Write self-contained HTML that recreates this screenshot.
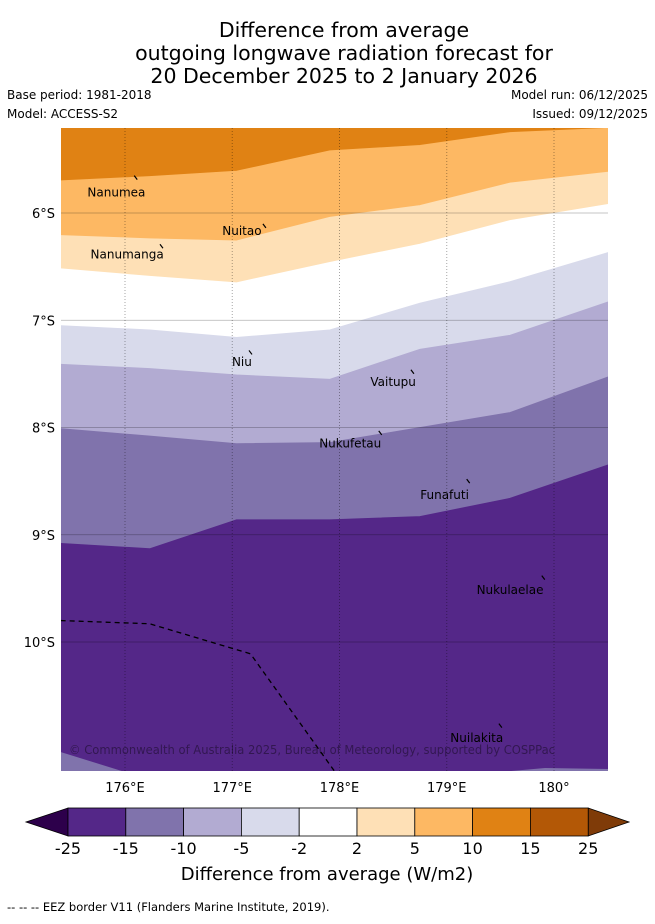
<!DOCTYPE html>
<html><head><meta charset="utf-8"><style>
body{margin:0;background:#fff;width:655px;height:919px;overflow:hidden;font-family:"Liberation Sans","DejaVu Sans",sans-serif}
</style></head><body>
<svg width="655" height="919" xmlns="http://www.w3.org/2000/svg" font-family="DejaVu Sans, Liberation Sans, sans-serif">
<g id="title" text-anchor="middle" font-size="20.5" fill="#000">
<text x="344" y="37">Difference from average</text>
<text x="344" y="60">outgoing longwave radiation forecast for</text>
<text x="344" y="83">20 December 2025 to 2 January 2026</text>
</g>
<g font-size="12" fill="#000">
<text x="7" y="99">Base period: 1981-2018</text>
<text x="7" y="118">Model: ACCESS-S2</text>
<text x="648" y="99" text-anchor="end">Model run: 06/12/2025</text>
<text x="648" y="118" text-anchor="end">Issued: 09/12/2025</text>
</g>
<defs><clipPath id="mc"><rect x="61" y="128" width="547" height="643"/></clipPath></defs>
<g id="map" clip-path="url(#mc)"></g>
<g id="axes"></g>
<g id="cbar"></g>
<text x="327" y="880" text-anchor="middle" font-size="18">Difference from average (W/m2)</text>
<text x="7" y="911" font-size="11.5">--  --  -- EEZ border V11 (Flanders Marine Institute, 2019).</text>
</svg>
<script>
const lons=[175.4,176.23,177.04,177.91,178.75,179.59,180.5];
const bounds=[
[5.21,5.21,5.21,5.21,5.21,5.21,5.21],
[5.70,5.66,5.61,5.42,5.37,5.25,5.21],
[6.21,6.24,6.26,6.04,5.93,5.72,5.62],
[6.52,6.59,6.65,6.46,6.29,6.07,5.92],
[7.05,7.09,7.16,7.09,6.84,6.64,6.37],
[7.41,7.45,7.51,7.55,7.27,7.14,6.83],
[8.01,8.08,8.15,8.14,8.00,7.86,7.53],
[9.08,9.13,8.86,8.86,8.83,8.66,8.35],
[11.3,11.3,11.3,11.3,11.3,11.3,11.3]];
const bandColors=["#e08214","#fdb863","#fee0b6","#ffffff","#d8daeb","#b2abd2","#8073ac","#542788"];
const lonTicks=[176,177,178,179,180];
const lonLabels=["176°E","177°E","178°E","179°E","180°"];
const latTicks=[6,7,8,9,10];
const latLabels=["6°S","7°S","8°S","9°S","10°S"];
const cbLevels=["-25","-15","-10","-5","-2","2","5","10","15","25"];
const cbColors=["#542788","#8073ac","#b2abd2","#d8daeb","#ffffff","#fee0b6","#fdb863","#e08214","#b35806"];
const islands=[["Nanumea",175.92,5.77,176.1,5.67],["Nuitao",177.09,6.13,177.3,6.12],["Nanumanga",176.02,6.35,176.34,6.31],["Niu",177.09,7.35,177.17,7.3],["Vaitupu",178.5,7.54,178.68,7.48],["Nukufetau",178.1,8.11,178.38,8.05],["Funafuti",178.98,8.59,179.2,8.5],["Nukulaelae",179.59,9.48,179.9,9.4],["Nuilakita",179.28,10.86,179.5,10.78]];
const eezLon=[175.4,176.23,177.17,177.95];
const eezLat=[9.8,9.83,10.11,11.2];
const X=l=>125+(l-176)*107.25, Y=a=>213+(a-6)*107.25;
const NS="http://www.w3.org/2000/svg";
function mk(t,a,p){const e=document.createElementNS(NS,t);for(const k in a)e.setAttribute(k,a[k]);p.appendChild(e);return e;}
const map=document.getElementById('map');
for(let i=0;i<bandColors.length;i++){
 let pts=lons.map((l,j)=>X(l)+','+Y(bounds[i][j]));
 let pts2=lons.map((l,j)=>X(l)+','+Y(bounds[i+1][j])).reverse();
 const p=mk('polygon',{points:pts.concat(pts2).join(' '),fill:bandColors[i],stroke:bandColors[i],'stroke-width':0.8},map);
 
 
}
const bl=mk('polygon',{points:`${X(175.4)},752 ${X(175.4)},772 ${X(176)},772`,fill:'#8073ac'},map);


const br=mk('polygon',{points:`500,772 545,768 608,769 608,772`,fill:'#8073ac'},map);


const ax=document.getElementById('axes');
lonTicks.forEach((l,i)=>{
 const g=mk('line',{x1:X(l),x2:X(l),y1:128,y2:771,stroke:'#000','stroke-opacity':0.35,'stroke-dasharray':'1,2','stroke-width':1},ax);
 
 
 const t=mk('text',{x:X(l),y:792,'text-anchor':'middle','font-size':13},ax);t.textContent=lonLabels[i];
 
 
});
latTicks.forEach((a,i)=>{
 const g=mk('line',{x1:61,x2:608,y1:Y(a),y2:Y(a),stroke:'#000','stroke-opacity':0.3,'stroke-width':0.8},ax);
 
 
 const t=mk('text',{x:55,y:Y(a)+5,'text-anchor':'end','font-size':13},ax);t.textContent=latLabels[i];
 
 
});
const eez=mk('polyline',{points:eezLon.map((l,i)=>X(l)+','+Y(eezLat[i])).join(' '),fill:'none',stroke:'#000','stroke-width':1.3,'stroke-dasharray':'5,4'},map);


islands.forEach(s=>{
 const t=mk('text',{x:X(s[1]),y:Y(s[2])+8,'text-anchor':'middle','font-size':12},ax);t.textContent=s[0];
 
 
 const m=mk('line',{x1:X(s[3])-1.5,y1:Y(s[4])-2,x2:X(s[3])+1.5,y2:Y(s[4])+2,stroke:'#000','stroke-width':1.2},ax);
 
 
});
const cr=mk('text',{x:69,y:754,'font-size':12,fill:'#000','fill-opacity':0.4,textLength:486,lengthAdjust:'spacingAndGlyphs'},ax);cr.textContent='© Commonwealth of Australia 2025, Bureau of Meteorology, supported by COSPPac';


const cb=document.getElementById('cbar');
const cx0=68,cw=57.8,cy=808,ch=28;
const lt=mk('polygon',{points:`${cx0},${cy} ${cx0},${cy+ch} 26,${cy+ch/2}`,fill:'#2d004b',stroke:'#000','stroke-width':0.8},cb);


const rt=mk('polygon',{points:`${cx0+cw*9},${cy} ${cx0+cw*9},${cy+ch} 629,${cy+ch/2}`,fill:'#7f3b08',stroke:'#000','stroke-width':0.8},cb);


cbColors.forEach((c,i)=>{
 const r=mk('rect',{x:cx0+i*cw,y:cy,width:cw,height:ch,fill:c,stroke:'#000','stroke-width':0.8},cb);
 
 
});
cbLevels.forEach((v,i)=>{
 const t=mk('text',{x:cx0+i*cw,y:854,'text-anchor':'middle','font-size':16},cb);t.textContent=v;
 
 
});
</script>
</body></html>
